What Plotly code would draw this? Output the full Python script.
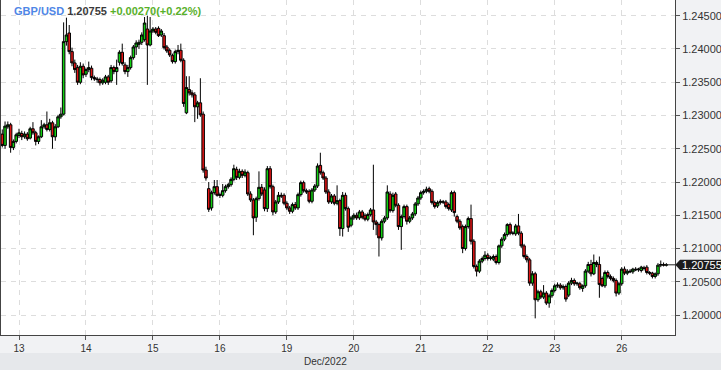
import pandas as pd
import plotly.graph_objects as go

# ---------------- data (hourly GBP/USD candles) ----------------
open_ = [
    1.2272,1.2255,1.2283,1.2286,1.2252,1.2261,1.2270,1.2273,1.2268,1.2272,
    1.2266,1.2280,1.2274,1.2261,1.2268,1.2283,1.2286,1.2279,1.2289,1.2268,
    1.2283,1.2298,1.2302,1.2411,1.2424,1.2396,1.2379,1.2372,1.2350,1.2374,
    1.2362,1.2369,1.2371,1.2357,1.2355,1.2354,1.2349,1.2350,1.2358,1.2352,
    1.2372,1.2366,1.2380,1.2395,1.2376,1.2366,1.2372,1.2387,1.2403,1.2407,
    1.2410,1.2414,1.2430,1.2406,1.2427,1.2430,1.2431,1.2421,1.2420,1.2403,
    1.2398,1.2390,1.2381,1.2396,1.2398,1.2383,1.2304,1.2339,1.2334,1.2331,
    1.2313,1.2319,1.2302,1.2218,1.2190,1.2161,1.2184,1.2193,1.2181,1.2180,
    1.2187,1.2193,1.2196,1.2204,1.2219,1.2207,1.2216,1.2210,1.2214,1.2182,
    1.2173,1.2147,1.2175,1.2192,1.2188,1.2160,1.2220,1.2193,1.2155,1.2170,
    1.2180,1.2180,1.2168,1.2161,1.2156,1.2166,1.2161,1.2181,1.2199,1.2187,
    1.2186,1.2171,1.2188,1.2194,1.2225,1.2214,1.2206,1.2185,1.2170,1.2179,
    1.2168,1.2172,1.2130,1.2180,1.2160,1.2135,1.2146,1.2150,1.2146,1.2155,
    1.2150,1.2144,1.2151,1.2158,1.2140,1.2136,1.2116,1.2141,1.2146,1.2182,
    1.2157,1.2182,1.2165,1.2133,1.2148,1.2163,1.2141,1.2146,1.2152,1.2167,
    1.2176,1.2184,1.2186,1.2190,1.2186,1.2169,1.2164,1.2169,1.2170,1.2170,
    1.2166,1.2158,1.2184,1.2148,1.2141,1.2133,1.2100,1.2133,1.2145,1.2111,
    1.2073,1.2066,1.2081,1.2085,1.2090,1.2085,1.2084,1.2088,1.2079,1.2104,
    1.2114,1.2121,1.2136,1.2123,1.2122,1.2134,1.2123,1.2104,1.2088,1.2083,
    1.2048,1.2062,1.2023,1.2035,1.2027,1.2033,1.2018,1.2029,1.2037,1.2044,
    1.2045,1.2041,1.2043,1.2030,1.2048,1.2052,1.2047,1.2047,1.2040,1.2044,
    1.2066,1.2076,1.2062,1.2079,1.2076,1.2055,1.2044,1.2064,1.2058,1.2055,
    1.2052,1.2033,1.2047,1.2069,1.2063,1.2066,1.2065,1.2069,1.2068,1.2067,
    1.2071,1.2072,1.2064,1.2063,1.2058,1.2062,1.2075,1.2076,1.2075,
]
high = [
    1.2279,1.2291,1.2291,1.2289,1.2264,1.2274,1.2280,1.2277,1.2276,1.2275,
    1.2283,1.2290,1.2277,1.2270,1.2293,1.2289,1.2306,1.2295,1.2292,1.2287,
    1.2301,1.2312,1.2440,1.2447,1.2436,1.2402,1.2384,1.2376,1.2380,1.2378,
    1.2372,1.2381,1.2375,1.2360,1.2358,1.2357,1.2356,1.2361,1.2361,1.2376,
    1.2375,1.2384,1.2398,1.2408,1.2380,1.2376,1.2390,1.2406,1.2413,1.2414,
    1.2425,1.2448,1.2450,1.2448,1.2433,1.2433,1.2434,1.2430,1.2424,1.2406,
    1.2401,1.2393,1.2399,1.2406,1.2408,1.2386,1.2359,1.2359,1.2338,1.2335,
    1.2322,1.2356,1.2306,1.2223,1.2200,1.2187,1.2203,1.2203,1.2184,1.2197,
    1.2196,1.2199,1.2207,1.2226,1.2223,1.2220,1.2219,1.2219,1.2217,1.2186,
    1.2176,1.2178,1.2216,1.2197,1.2192,1.2224,1.2224,1.2196,1.2173,1.2185,
    1.2184,1.2183,1.2171,1.2164,1.2169,1.2170,1.2184,1.2202,1.2202,1.2190,
    1.2189,1.2191,1.2197,1.2228,1.2244,1.2217,1.2209,1.2189,1.2182,1.2182,
    1.2195,1.2175,1.2185,1.2184,1.2163,1.2149,1.2153,1.2154,1.2158,1.2158,
    1.2153,1.2154,1.2161,1.2226,1.2143,1.2139,1.2144,1.2149,1.2195,1.2186,
    1.2184,1.2185,1.2168,1.2151,1.2166,1.2166,1.2149,1.2155,1.2170,1.2179,
    1.2187,1.2189,1.2193,1.2193,1.2189,1.2172,1.2172,1.2174,1.2173,1.2173,
    1.2169,1.2187,1.2187,1.2151,1.2144,1.2136,1.2136,1.2148,1.2166,1.2114,
    1.2076,1.2084,1.2088,1.2096,1.2093,1.2089,1.2091,1.2091,1.2106,1.2117,
    1.2124,1.2138,1.2139,1.2126,1.2137,1.2152,1.2126,1.2107,1.2091,1.2086,
    1.2066,1.2065,1.2038,1.2038,1.2045,1.2036,1.2032,1.2040,1.2047,1.2049,
    1.2048,1.2046,1.2046,1.2051,1.2056,1.2055,1.2050,1.2050,1.2046,1.2069,
    1.2080,1.2083,1.2091,1.2082,1.2088,1.2058,1.2067,1.2067,1.2061,1.2058,
    1.2055,1.2050,1.2072,1.2073,1.2069,1.2069,1.2071,1.2072,1.2071,1.2074,
    1.2074,1.2075,1.2066,1.2065,1.2064,1.2078,1.2082,1.2079,1.2078,
]
low = [
    1.2252,1.2250,1.2280,1.2244,1.2248,1.2258,1.2266,1.2263,1.2265,1.2262,
    1.2264,1.2271,1.2255,1.2257,1.2266,1.2280,1.2276,1.2276,1.2250,1.2262,
    1.2281,1.2295,1.2300,1.2405,1.2392,1.2374,1.2364,1.2346,1.2347,1.2356,
    1.2358,1.2365,1.2353,1.2352,1.2349,1.2345,1.2346,1.2347,1.2346,1.2349,
    1.2362,1.2346,1.2375,1.2375,1.2362,1.2358,1.2369,1.2384,1.2391,1.2400,
    1.2406,1.2411,1.2346,1.2404,1.2424,1.2422,1.2418,1.2418,1.2399,1.2394,
    1.2388,1.2378,1.2378,1.2392,1.2380,1.2313,1.2302,1.2330,1.2327,1.2290,
    1.2295,1.2298,1.2214,1.2202,1.2155,1.2157,1.2181,1.2178,1.2176,1.2177,
    1.2184,1.2190,1.2193,1.2201,1.2203,1.2204,1.2206,1.2207,1.2179,1.2170,
    1.2120,1.2140,1.2172,1.2179,1.2156,1.2155,1.2190,1.2150,1.2152,1.2167,
    1.2176,1.2165,1.2158,1.2152,1.2153,1.2158,1.2158,1.2178,1.2184,1.2182,
    1.2168,1.2168,1.2185,1.2191,1.2211,1.2203,1.2182,1.2167,1.2167,1.2165,
    1.2165,1.2119,1.2118,1.2157,1.2125,1.2132,1.2143,1.2143,1.2143,1.2144,
    1.2141,1.2141,1.2148,1.2128,1.2120,1.2088,1.2112,1.2138,1.2143,1.2154,
    1.2154,1.2162,1.2128,1.2098,1.2145,1.2136,1.2138,1.2143,1.2149,1.2164,
    1.2173,1.2181,1.2183,1.2183,1.2166,1.2160,1.2161,1.2166,1.2167,1.2160,
    1.2157,1.2155,1.2148,1.2138,1.2128,1.2093,1.2097,1.2130,1.2106,1.2070,
    1.2058,1.2063,1.2078,1.2082,1.2082,1.2082,1.2081,1.2076,1.2076,1.2101,
    1.2111,1.2118,1.2120,1.2120,1.2119,1.2120,1.2101,1.2085,1.2079,1.2044,
    1.2044,1.1995,1.2020,1.2024,1.2024,1.2015,1.2011,1.2026,1.2034,1.2041,
    1.2038,1.2038,1.2020,1.2027,1.2045,1.2044,1.2044,1.2038,1.2035,1.2041,
    1.2063,1.2058,1.2060,1.2072,1.2026,1.2042,1.2041,1.2055,1.2052,1.2049,
    1.2028,1.2030,1.2044,1.2060,1.2060,1.2063,1.2062,1.2066,1.2065,1.2064,
    1.2067,1.2061,1.2060,1.2055,1.2055,1.2059,1.2072,1.2073,1.2073,
]
close = [
    1.2255,1.2284,1.2286,1.2252,1.2261,1.2271,1.2274,1.2268,1.2272,1.2265,
    1.2280,1.2274,1.2261,1.2268,1.2283,1.2286,1.2279,1.2289,1.2268,1.2283,
    1.2298,1.2302,1.2411,1.2421,1.2396,1.2379,1.2369,1.2350,1.2374,1.2361,
    1.2369,1.2372,1.2357,1.2355,1.2354,1.2349,1.2353,1.2358,1.2350,1.2372,
    1.2366,1.2372,1.2395,1.2378,1.2366,1.2372,1.2387,1.2403,1.2409,1.2410,
    1.2421,1.2439,1.2406,1.2427,1.2430,1.2425,1.2420,1.2427,1.2402,1.2397,
    1.2391,1.2381,1.2396,1.2398,1.2383,1.2318,1.2342,1.2334,1.2331,1.2313,
    1.2319,1.2301,1.2218,1.2206,1.2159,1.2184,1.2193,1.2180,1.2180,1.2187,
    1.2193,1.2196,1.2204,1.2220,1.2207,1.2216,1.2210,1.2215,1.2182,1.2173,
    1.2146,1.2175,1.2192,1.2182,1.2160,1.2220,1.2193,1.2155,1.2170,1.2180,
    1.2179,1.2168,1.2161,1.2156,1.2166,1.2161,1.2181,1.2199,1.2187,1.2185,
    1.2171,1.2188,1.2194,1.2224,1.2214,1.2206,1.2185,1.2170,1.2179,1.2168,
    1.2172,1.2130,1.2180,1.2160,1.2132,1.2146,1.2150,1.2146,1.2155,1.2147,
    1.2144,1.2151,1.2158,1.2140,1.2136,1.2116,1.2141,1.2146,1.2185,1.2157,
    1.2180,1.2165,1.2133,1.2148,1.2163,1.2141,1.2146,1.2152,1.2167,1.2176,
    1.2184,1.2186,1.2189,1.2186,1.2169,1.2163,1.2169,1.2171,1.2170,1.2163,
    1.2160,1.2184,1.2154,1.2141,1.2131,1.2100,1.2133,1.2145,1.2111,1.2073,
    1.2066,1.2081,1.2085,1.2090,1.2085,1.2086,1.2088,1.2079,1.2104,1.2114,
    1.2121,1.2136,1.2123,1.2123,1.2134,1.2123,1.2104,1.2088,1.2083,1.2048,
    1.2062,1.2023,1.2035,1.2027,1.2033,1.2018,1.2029,1.2037,1.2044,1.2045,
    1.2041,1.2043,1.2024,1.2048,1.2052,1.2047,1.2048,1.2041,1.2044,1.2066,
    1.2076,1.2062,1.2079,1.2076,1.2046,1.2044,1.2064,1.2058,1.2055,1.2052,
    1.2033,1.2047,1.2069,1.2063,1.2066,1.2065,1.2069,1.2068,1.2069,1.2072,
    1.2070,1.2064,1.2063,1.2058,1.2062,1.2075,1.2076,1.2075,1.20755,
]

day_ticks = ["2022-12-13", "2022-12-14", "2022-12-15", "2022-12-16", "2022-12-19",
             "2022-12-20", "2022-12-21", "2022-12-22", "2022-12-23", "2022-12-26"]
day_labels = ["13", "14", "15", "16", "19", "20", "21", "22", "23", "26"]
price_ticks = [1.200, 1.205, 1.210, 1.215, 1.220, 1.225, 1.230, 1.235, 1.240, 1.245]
price_labels = ["%.5f" % v for v in price_ticks]

symbol = "GBP/USD"
last_price = "1.20755"
change_text = "+0.00270(+0.22%)"

# hourly timestamps (weekdays only), starting Dec 12 18:00
hours = pd.date_range("2022-12-12 18:00", "2022-12-26 23:00", freq="h")
hours = hours[hours.dayofweek < 5][: len(close)]

FONT = "Liberation Sans, Arial, sans-serif"

fig = go.Figure(go.Candlestick(
    x=hours, open=open_, high=high, low=low, close=close,
    increasing=dict(line=dict(color="#000000", width=1), fillcolor="#11d011"),
    decreasing=dict(line=dict(color="#000000", width=1), fillcolor="#e01515"),
    whiskerwidth=0, hoverinfo="skip",
))

fig.update_layout(
    width=721, height=370,
    margin=dict(l=1, r=46, t=0, b=35),
    paper_bgcolor="#f1f2f4", plot_bgcolor="#ffffff",
    showlegend=False,
    boxgap=0.05, boxgroupgap=0.05,
    font=dict(family=FONT, size=11, color="#333333"),
)

fig.update_xaxes(
    type="date",
    rangebreaks=[dict(bounds=["sat", "mon"])],
    range=["2022-12-12 17:33", "2022-12-26 19:06"],
    rangeslider=dict(visible=False),
    tickvals=day_ticks, ticktext=day_labels,
    ticks="outside", ticklen=4, tickcolor="#555555",
    tickfont=dict(family=FONT, size=10, color="#333333"),
    showline=True, linecolor="#444444", linewidth=1,
    showgrid=True, gridcolor="#dddddd", griddash="5px,5px", gridwidth=1,
    zeroline=False,
)

fig.update_yaxes(
    side="right",
    range=[1.19700, 1.24736],
    tickvals=price_ticks, ticktext=price_labels,
    ticks="outside", ticklen=4, tickcolor="#555555",
    tickfont=dict(family=FONT, size=11, color="#333333"),
    showline=True, mirror=True, linecolor="#444444", linewidth=1,
    showgrid=True, gridcolor="#dddddd", griddash="5px,5px", gridwidth=1,
    zeroline=False,
)

# bottom band behind "Dec/2022"
fig.add_shape(type="rect", xref="paper", yref="paper",
              x0=-0.01, x1=1.1, y0=-0.1045, y1=-0.0537,
              fillcolor="#e6e8eb", line=dict(width=0), layer="below")

# last price tag
lp = float(last_price)
fig.add_shape(type="path", xref="paper", yref="y",
              path=f"M 1.0005,{lp} L 1.0075,{lp + 0.00078} L 1.0690,{lp + 0.00078} "
                   f"L 1.0690,{lp - 0.00078} L 1.0075,{lp - 0.00078} Z",
              fillcolor="#1c1c1c", line=dict(width=0), layer="above")
fig.add_annotation(xref="paper", yref="y", x=1.0070, y=lp, xanchor="left", yanchor="middle",
                   text=last_price, showarrow=False,
                   font=dict(family=FONT, size=11, color="#ffffff"))
fig.add_shape(type="line", xref="x", yref="y", x0=hours[-1], x1="2022-12-26 19:06",
              y0=lp, y1=lp, line=dict(color="#222222", width=1))

# header
fig.add_annotation(
    xref="paper", yref="paper", x=0.016, y=0.967, xanchor="left", yanchor="middle",
    showarrow=False,
    text=(f"<b><span style='color:#4f86e6'>{symbol}</span> "
          f"<span style='color:#3a3a3a'>{last_price}</span> "
          f"<span style='color:#58b02a'>{change_text}</span></b>"),
    font=dict(family="Liberation Sans, Arial, sans-serif", size=11),
)

# month label
fig.add_annotation(xref="paper", yref="paper", x=0.482, y=-0.078, xanchor="center", yanchor="middle",
                   text="Dec/2022", showarrow=False,
                   font=dict(family=FONT, size=10, color="#333333"))

fig.write_html("out.html")
